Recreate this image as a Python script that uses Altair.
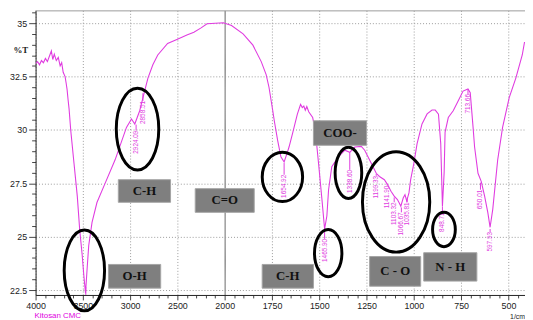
import altair as alt
import pandas as pd

# ---------------- spectrum data ----------------
wavenumber = [4000, 3979, 3958, 3938, 3917, 3896, 3875, 3854, 3833, 3818,
              3802, 3781, 3760, 3740, 3724, 3708, 3688, 3677, 3667, 3656,
              3646, 3628, 3594, 3559, 3534, 3507, 3490, 3472, 3455, 3438,
              3403, 3351, 3264, 3159, 3039, 2986, 2951, 2899, 2865, 2847,
              2812, 2760, 2708, 2604, 2500, 2400, 2326, 2250, 2187, 2100,
              2014, 1964, 1903, 1851, 1807, 1781, 1766, 1746, 1738, 1720,
              1703, 1686, 1668, 1660, 1642, 1616, 1599, 1590, 1582, 1574,
              1566, 1556, 1535, 1521, 1504, 1486, 1472, 1460, 1451, 1434,
              1399, 1365, 1339, 1312, 1278, 1260, 1234, 1199, 1182, 1156,
              1139, 1121, 1104, 1087, 1078, 1069, 1056, 1047, 1038, 1026,
              1017, 1000, 983, 957, 930, 904, 887, 870, 858, 849,
              840, 835, 818, 792, 766, 740, 714, 702, 687, 679,
              661, 644, 626, 609, 597, 583, 557, 531, 496, 461,
              427, 415]
transmittance = [33.10, 33.20, 33.05, 33.25, 33.15, 33.35, 33.20, 33.45, 33.70, 33.30,
                 33.55, 33.25, 33.40, 33.00, 33.15, 32.70, 32.50, 32.20, 31.90, 31.40,
                 31.00, 29.97, 28.45, 26.90, 25.36, 24.13, 23.20, 22.35, 23.50, 24.59,
                 25.67, 26.60, 27.51, 28.60, 30.12, 30.51, 30.28, 30.90, 31.50, 31.82,
                 32.43, 33.05, 33.51, 34.05, 34.25, 34.45, 34.58, 34.78, 34.97, 35.00,
                 35.02, 34.89, 34.50, 33.97, 33.20, 32.59, 32.00, 30.90, 30.43, 29.50,
                 28.74, 28.50, 28.97, 29.20, 29.82, 30.74, 31.20, 31.05, 31.12, 30.92,
                 31.10, 30.85, 30.58, 29.97, 28.44, 26.74, 25.36, 25.97, 27.20, 28.28,
                 28.74, 29.05, 28.95, 29.20, 29.23, 29.05, 28.59, 27.97, 27.82, 27.67,
                 27.44, 27.13, 26.90, 26.74, 26.59, 26.43, 26.82, 26.97, 26.67, 27.05,
                 27.67, 28.44, 29.36, 30.28, 30.75, 30.93, 30.93, 30.74, 29.36, 26.43,
                 28.00, 29.90, 30.58, 30.90, 31.36, 31.82, 31.92, 31.74, 30.12, 29.20,
                 27.97, 27.59, 26.90, 26.13, 25.44, 26.28, 28.59, 30.12, 31.51, 32.43,
                 33.51, 34.12]

# ---------------- peak labels ----------------
peak_wn = [2937, 2865, 3469, 1686, 1472, 1339, 1199, 1141, 1104, 1066, 1035, 849, 714, 648, 597]
peak_tick_top = [30.25, 31.72, 22.64, 28.45, 25.31, 28.96, 27.94, 27.48, 26.84, 26.37, 26.84, 26.42, 31.91, 27.53, 25.36]
peak_text_top = [29.97, 31.36, 22.27, 27.90, 24.90, 28.13, 27.85, 27.39, 26.61, 26.14, 26.61, 26.14, 31.68, 27.20, 25.22]
peak_text = ["2924.09", "2858.51", "", "1654.92", "1465.90", "1338.60", "1199.33", "1141.90",
             "1103.32", "1066.67", "1035.81", "848.71", "713.66", "650.01", "597.93"]

# ---------------- ellipse annotations ----------------
ell_key = ["oh", "ch1", "co1", "ch2", "coo", "co2", "nh"]
ell_wn = [3484, 2922, 1695, 1453, 1346, 1094, 841]
ell_t = [23.42, 30.04, 27.80, 24.23, 27.99, 26.63, 25.34]
ell_aspect = [0.50, 0.52, 0.82, 0.58, 0.52, 0.67, 0.66]
ell_ry = [41, 41.5, 25, 24, 26, 51, 17.5]

# ---------------- label boxes ----------------
box_text = ["C-H", "O-H", "C=O", "C-H", "COO-", "C - O", "N - H"]
box_wn1 = [3125, 3229, 2312, 1802, 1531, 1234, 948]
box_wn2 = [2573, 2677, 1844, 1531, 1250, 964, 667]
box_t1 = [26.61, 22.59, 26.14, 22.59, 29.28, 22.68, 22.92]
box_t2 = [27.67, 23.70, 27.25, 23.70, 30.43, 24.07, 24.25]

W, H = 497, 289
MAG = "#e03ce0"


def pexpr(f):
    return f"datum.{f} >= 2000 ? (4000 - datum.{f}) / 500 : 4 + (2000 - datum.{f}) / 250"


xscale = alt.Scale(domain=[0, 10.35], nice=False, zero=False)
yscale = alt.Scale(domain=[22.27, 35.6], nice=False, zero=False)

xmaj = "abs(datum.value - round(datum.value)) < 0.01"
x2000 = "abs(datum.value - 4) < 0.01"
xvals = [round(i * 0.2, 1) for i in range(0, 52)]
xaxis = alt.Axis(
    values=xvals, tickCount=200, title=None, labelOverlap=False, labelFlush=False, labelBound=False,
    labelExpr=f"{xmaj} ? (datum.value <= 4 ? toString(round(4000 - datum.value * 500)) : toString(round(2000 - (datum.value - 4) * 250))) : ''",
    labelFont="Liberation Sans", labelFontSize=9, labelColor="#222", labelPadding=2,
    tickSize={"condition": {"test": xmaj, "value": 5}, "value": 3},
    tickColor="#444",
    domainColor="#222",
    grid=True,
    gridOpacity={"condition": {"test": xmaj, "value": 1}, "value": 0},
    gridDash={"condition": {"test": x2000, "value": [1, 0]}, "value": [1, 2]},
    gridColor={"condition": {"test": x2000, "value": "#555555"}, "value": "#9a9a9a"},
)

ymaj = "abs(datum.value / 2.5 - round(datum.value / 2.5)) < 0.01"
yvals = [22.5 + i * 0.5 for i in range(0, 27)]
yaxis = alt.Axis(
    values=yvals, tickCount=200, title=None, labelOverlap=False, labelFlush=False, labelBound=False,
    labelExpr=f"{ymaj} ? toString(datum.value) : ''",
    labelFont="Liberation Sans", labelFontSize=9, labelColor="#222", labelPadding=2,
    tickSize={"condition": {"test": ymaj, "value": 7}, "value": 4},
    tickColor="#444",
    domainColor="#222",
    grid=True,
    gridOpacity={"condition": {"test": ymaj, "value": 1}, "value": 0},
    gridDash=[1, 2], gridColor="#9a9a9a",
)

spec = pd.DataFrame({"wn": wavenumber, "T": transmittance})
line = alt.Chart(spec).transform_calculate(p=pexpr("wn")).mark_line(
    color=MAG, strokeWidth=1.1, clip=True
).encode(
    x=alt.X("p:Q", scale=xscale, axis=xaxis),
    y=alt.Y("T:Q", scale=yscale, axis=yaxis),
)

peaks = pd.DataFrame({"wn": peak_wn, "t1": peak_tick_top, "t2": peak_text_top, "label": peak_text})
peak_ticks = alt.Chart(peaks).transform_calculate(p=pexpr("wn")).mark_rule(
    color=MAG, strokeWidth=1
).encode(x=alt.X("p:Q", scale=xscale), y=alt.Y("t1:Q", scale=yscale), y2="t2:Q")
peak_labels = alt.Chart(peaks).transform_calculate(p=pexpr("wn")).mark_text(
    color=MAG, font="Liberation Sans", fontSize=6.5, angle=270, align="right", baseline="middle"
).encode(x=alt.X("p:Q", scale=xscale), y=alt.Y("t2:Q", scale=yscale), text="label:N")

paths = [f"M -{a} 0 A {a} 1 0 1 0 {a} 0 A {a} 1 0 1 0 -{a} 0 Z" for a in ell_aspect]
ell = pd.DataFrame({"key": ell_key, "wn": ell_wn, "T": ell_t, "ry": ell_ry})
ellipses = alt.Chart(ell).transform_calculate(
    p=pexpr("wn"), sz="4 * datum.ry * datum.ry"
).mark_point(filled=False, color="black", strokeWidth=3, opacity=1).encode(
    x=alt.X("p:Q", scale=xscale),
    y=alt.Y("T:Q", scale=yscale),
    shape=alt.Shape("key:N", scale=alt.Scale(domain=ell_key, range=paths), legend=None),
    size=alt.Size("sz:Q", scale=None),
)

boxes_df = pd.DataFrame({"label": box_text, "a": box_wn1, "b": box_wn2, "t1": box_t1, "t2": box_t2})
boxes = alt.Chart(boxes_df).transform_calculate(p1=pexpr("a"), p2=pexpr("b")).mark_rect(
    fill="#7f7f7f", stroke="#a5a5a5", strokeWidth=1
).encode(x=alt.X("p1:Q", scale=xscale), x2="p2:Q", y=alt.Y("t1:Q", scale=yscale), y2="t2:Q")
box_labels = alt.Chart(boxes_df).transform_calculate(
    pc=f"(({pexpr('a')}) + ({pexpr('b')})) / 2", tc="(datum.t1 + datum.t2) / 2"
).mark_text(
    font="Liberation Serif", fontWeight="bold", fontSize=13, color="#111111", baseline="middle"
).encode(x=alt.X("pc:Q", scale=xscale), y=alt.Y("tc:Q", scale=yscale), text="label:N")

top_line = alt.Chart(pd.DataFrame({"k": [0]})).mark_rule(color="#9a9a9a", strokeWidth=1).encode(
    x=alt.value(0), x2=alt.value(W), y=alt.value(0.5)
)
pct = alt.Chart(pd.DataFrame({"t": ["%T"]})).mark_text(
    font="Liberation Serif", fontSize=9, fontWeight="bold", color="#222"
).encode(x=alt.value(-15), y=alt.value(40), text="t:N")
sample = alt.Chart(pd.DataFrame({"t": ["Kitosan CMC"]})).mark_text(
    font="Liberation Sans", fontSize=8, color="#e000e0", align="left"
).encode(x=alt.value(-1), y=alt.value(310.5), text="t:N")
unit = alt.Chart(pd.DataFrame({"t": ["1/cm"]})).mark_text(
    font="Liberation Sans", fontSize=7, color="#222", align="right"
).encode(x=alt.value(W), y=alt.value(311), text="t:N")

chart = alt.layer(
    line, peak_ticks, peak_labels, ellipses, boxes, box_labels, top_line, pct, sample, unit
).properties(
    width=W, height=H,
    autosize=alt.AutoSizeParams(type="none"),
    padding={"left": 28, "top": 0, "right": 0, "bottom": 23},
    background="white",
).configure_view(stroke=None)

chart.save("out.html", embed_options={"renderer": "svg", "actions": False})
